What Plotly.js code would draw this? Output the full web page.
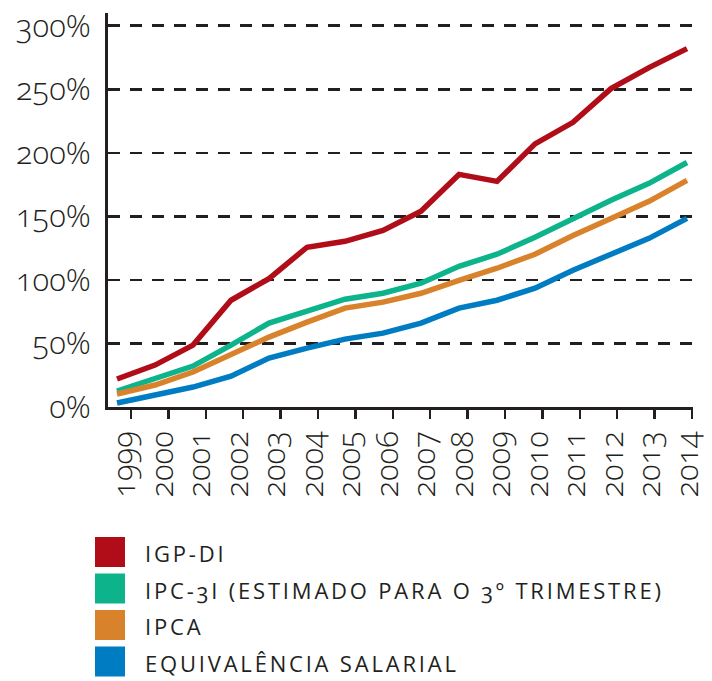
<!DOCTYPE html>
<html>
<head>
<meta charset="utf-8">
<script src="https://cdn.plot.ly/plotly-3.0.1.min.js"></script>
<style>
  html, body { margin: 0; padding: 0; background: #fff; }
  #chart { width: 712px; height: 681px; }
  text { font-variant-numeric: oldstyle-nums !important; font-feature-settings: "onum" 1 !important; }
  .annotation-text { letter-spacing: 2.8px !important; }
</style>
</head>
<body>
<div id="chart"></div>
<script>
// ---- data ----
const years = [1999, 2000, 2001, 2002, 2003, 2004, 2005, 2006, 2007, 2008, 2009, 2010, 2011, 2012, 2013, 2014];
const igpDi = [22, 33, 48.7, 84, 101, 125.7, 130.4, 139, 154, 183, 177.5, 207, 224, 250.5, 267, 282];
const ipc3i = [12.6, 22.8, 32.2, 48.7, 66, 75.4, 84.8, 89.5, 97.4, 110.7, 120.2, 133.5, 148.4, 162.6, 176, 192.4];
const ipca = [10.2, 17.3, 27.5, 41.6, 55, 66.8, 77.8, 82.5, 89.5, 99.7, 109.2, 120.2, 135, 148.4, 161.8, 178.3];
const equivSalarial = [3.1, 9.4, 15.7, 24.3, 38.5, 46.3, 53.4, 58.1, 66, 77.8, 84, 93.5, 107.6, 120.2, 132.7, 148.4];
const seriesNames = ['IGP-DI', 'IPC-3I (ESTIMADO PARA O 3º TRIMESTRE)', 'IPCA', 'EQUIVALÊNCIA SALARIAL'];
const seriesColors = ['#b10d18', '#0db48b', '#d9822c', '#007cc3'];
const yTickVals = [0, 50, 100, 150, 200, 250, 300];
const yTickText = ['0%', '50%', '100%', '150%', '200%', '250%', '300%'];

// ---- layout geometry ----
const W = 712, H = 681;
const M = { l: 108, r: 19, t: 13, b: 274 };
const plotW = W - M.l - M.r, plotH = H - M.t - M.b;
const xMin = 1998.763, xMax = 2014.158;
const ink = '#231f20';
const FONT = '"Open Sans", Lato, "Noto Sans", sans-serif';

const allSeries = [igpDi, ipc3i, ipca, equivSalarial];
const traces = allSeries.map((vals, i) => ({
  type: 'scatter', mode: 'lines', x: years, y: vals, name: seriesNames[i],
  line: { color: seriesColors[i], width: 5.5 }, showlegend: false, hoverinfo: 'skip'
}));
// invisible trace to carry xaxis2 (year label axis)
traces.push({ type: 'scatter', mode: 'markers', x: [years[0]], y: [null], xaxis: 'x2', yaxis: 'y', showlegend: false, hoverinfo: 'skip', marker: { opacity: 0 } });

const tickPos = years.map((y, i) => years[0] + 0.37 + i * 0.984);
const labelPos = years.map((y, i) => years[0] + 0.21 + i * 0.987);

// legend built from series names / colors
const pxX = px => (px - M.l) / plotW;
const pxY = py => (H - M.b - py) / plotH;
const shapes = [], annotations = [];
seriesNames.forEach((name, i) => {
  const cy = 552 + i * 36.5;
  shapes.push({ type: 'rect', xref: 'paper', yref: 'paper', x0: pxX(95), x1: pxX(125), y0: pxY(cy - 15), y1: pxY(cy + 15),
    fillcolor: seriesColors[i], line: { width: 0 } });
  annotations.push({ xref: 'paper', yref: 'paper', x: pxX(143), y: pxY(cy + 1), xanchor: 'left', yanchor: 'middle',
    text: name, showarrow: false, font: { family: FONT, size: 22, color: ink, weight: 500 } });
});

const layout = {
  width: W, height: H,
  margin: M,
  paper_bgcolor: '#fff', plot_bgcolor: '#fff',
  showlegend: false,
  xaxis: {
    range: [xMin, xMax], showgrid: false, zeroline: false,
    showline: true, linecolor: ink, linewidth: 3,
    tickmode: 'array', tickvals: tickPos, ticks: 'outside', ticklen: 9, tickwidth: 2.5, tickcolor: ink,
    showticklabels: false, fixedrange: true
  },
  xaxis2: {
    overlaying: 'x', matches: 'x', side: 'bottom', anchor: 'y',
    showgrid: false, zeroline: false, showline: false, ticks: '',
    tickmode: 'array', tickvals: labelPos, ticktext: years.map(String),
    tickangle: -90, ticklabelstandoff: 17,
    tickfont: { family: FONT, size: 31, color: ink, weight: 300 }
  },
  yaxis: {
    range: [0, 310], zeroline: false,
    showline: true, linecolor: ink, linewidth: 3,
    showgrid: true, gridcolor: ink, gridwidth: 2.5, griddash: '12px,10px',
    tickmode: 'array', tickvals: yTickVals, ticktext: yTickText, ticks: '',
    ticklabelstandoff: 8,
    tickfont: { family: FONT, size: 31, color: ink, weight: 300 }, fixedrange: true
  },
  shapes: shapes,
  annotations: annotations
};

Plotly.newPlot('chart', traces, layout, { displayModeBar: false, staticPlot: true });
</script>
</body>
</html>
